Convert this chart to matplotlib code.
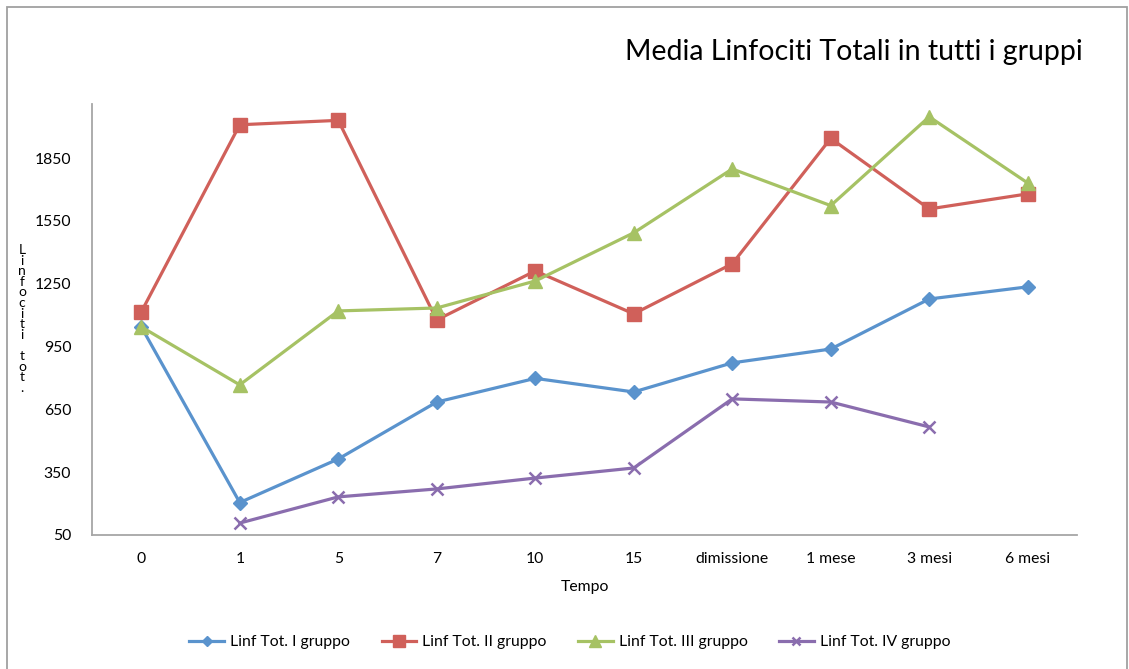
import numpy as np
import matplotlib
matplotlib.use("Agg")
import matplotlib.pyplot as plt
from matplotlib.patches import Rectangle

plt.rcParams['font.family'] = ['Lato', 'DejaVu Sans']

# Tempi di prelievo e medie dei linfociti totali per gruppo
tempi = ['0', '1', '5', '7', '10', '15', 'dimissione', '1 mese', '3 mesi', '6 mesi']
gruppo_1 = [1044, 205, 413, 685, 798, 733, 872, 938, 1177, 1235]
gruppo_2 = [1115, 2009, 2030, 1077, 1311, 1106, 1345, 1944, 1607, 1679]
gruppo_3 = [1044, 767, 1120, 1134, 1263, 1493, 1798, 1623, 2047, 1731]
gruppo_4 = [np.nan, 107, 232, 270, 322, 370, 700, 685, 566, np.nan]
y_ticks = [50, 350, 650, 950, 1250, 1550, 1850]

fig = plt.figure(figsize=(11.29, 6.69), dpi=100)
ax = fig.add_axes([0.0815, 0.2003, 0.8724, 0.6442])

x = np.arange(len(tempi))
serie = [
    (gruppo_1, 'Linf Tot. I gruppo', '#5A93CD', 'D', 7, 1.0),
    (gruppo_2, 'Linf Tot. II gruppo', '#D0605A', 's', 10, 1.0),
    (gruppo_3, 'Linf Tot. III gruppo', '#A6C264', '^', 10, 1.0),
    (gruppo_4, 'Linf Tot. IV gruppo', '#8A6DAE', 'x', 8, 1.8),
]
for valori, nome, col, mk, ms, mew in serie:
    ax.plot(x, valori, color=col, lw=2.3, marker=mk, markersize=ms,
            markeredgewidth=mew, markeredgecolor=col, markerfacecolor=col,
            label=nome)

ax.set_xlim(-0.5, len(tempi) - 0.5)
ax.set_ylim(50, 2108)
ax.set_xticks(x)
ax.set_xticklabels(tempi)
ax.set_yticks(y_ticks)
ax.tick_params(axis='both', length=0, labelsize=11.3, colors='black')
ax.tick_params(axis='x', pad=12)
ax.tick_params(axis='y', pad=15)
for lato in ['top', 'right']:
    ax.spines[lato].set_visible(False)
for lato in ['left', 'bottom']:
    ax.spines[lato].set_color('#A6A6A6')
    ax.spines[lato].set_linewidth(1.3)

ax.set_xlabel('Tempo', fontsize=11.3, labelpad=10.5)

# etichetta verticale con lettere impilate
fig.text(22 / 1129, 1 - 319 / 669, '\n'.join('Linfociti tot.'), fontsize=10,
         ha='center', va='center', linespacing=0.86)

fig.text(1083 / 1129, 1 - 52 / 669, 'Media Linfociti Totali in tutti i gruppi',
         fontsize=20.5, ha='right', va='center')

fig.legend(loc='center', bbox_to_anchor=(570 / 1129, 1 - 642 / 669), ncol=4,
           frameon=False, fontsize=11.3, handlelength=2.2, columnspacing=2.0,
           handletextpad=0.4, markerscale=0.8)

# cornice esterna del grafico
fig.patches.append(Rectangle((7 / 1129, -0.05), 1120 / 1129, 1.05 - 7 / 669,
                             transform=fig.transFigure, fill=False,
                             edgecolor='#A0A0A0', lw=1.3, clip_on=False))

fig.savefig('out.png', dpi=100, facecolor='white')
